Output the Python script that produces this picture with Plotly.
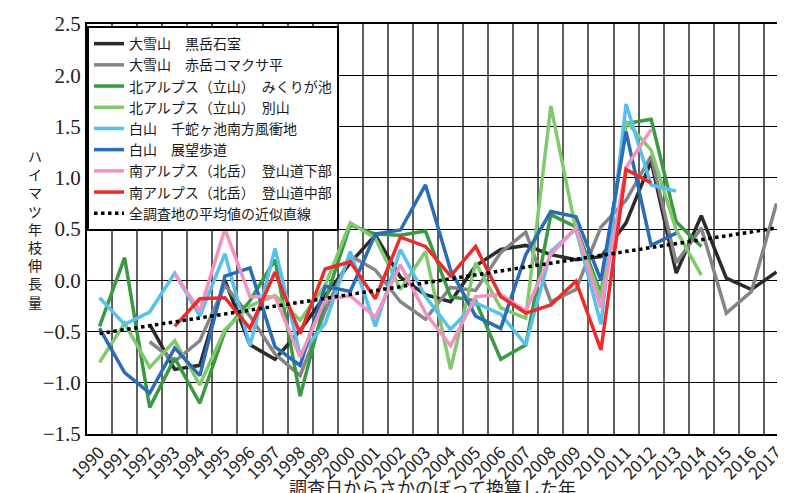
import plotly.graph_objects as go

years = list(range(1990, 2018))

series_names = [
    "大雪山\u3000黒岳石室",
    "大雪山\u3000赤岳コマクサ平",
    "北アルプス（立山）\u3000みくりが池",
    "北アルプス（立山）\u3000別山",
    "白山\u3000千蛇ヶ池南方風衝地",
    "白山\u3000展望歩道",
    "南アルプス（北岳）\u3000登山道下部",
    "南アルプス（北岳）\u3000登山道中部",
]
series_colors = ["#2b2b2b", "#858585", "#3a9a42", "#80c96c", "#55c2ee", "#2c6cb6", "#f292c0", "#ee2b2b"]

N = None
kurodake = [N, N, -0.43, -0.87, -0.83, 0.0, -0.63, -0.77, -0.49, -0.15, 0.17, 0.44, 0.03, -0.14,
            -0.21, 0.14, 0.30, 0.34, 0.25, 0.20, 0.23, 0.56, 1.16, 0.07, 0.63, 0.02, -0.09, 0.08]
akadake = [N, N, -0.60, -0.79, -0.59, -0.05, -0.35, -0.72, -0.93, -0.30, 0.24, 0.10, -0.21, -0.38,
           -0.07, -0.10, 0.27, 0.47, -0.21, -0.09, 0.52, 0.78, 1.21, 0.17, 0.51, -0.32, -0.11, 0.75]
mikurigaike = [-0.45, 0.22, -1.24, -0.76, -1.20, -0.50, -0.20, 0.20, -1.13, -0.20, 0.54, 0.45, 0.44, 0.48,
               -0.16, -0.20, -0.77, -0.63, 0.64, 0.52, -0.13, 1.53, 1.57, 0.57, 0.33, N, N, N]
bessan = [-0.80, -0.42, -0.85, -0.59, -1.02, -0.48, -0.25, -0.15, -0.39, -0.05, 0.56, 0.41, -0.09, 0.28,
          -0.87, 0.17, -0.27, -0.37, 1.70, 0.49, -0.18, 1.55, 1.27, 0.49, 0.05, N, N, N]
senjagaike = [-0.17, -0.43, -0.31, 0.07, -0.35, 0.26, -0.64, 0.31, -0.73, -0.42, 0.28, -0.45, 0.30, -0.16,
              -0.48, -0.22, -0.33, -0.63, 0.28, 0.50, -0.43, 1.72, 0.93, 0.87, N, N, N, N]
tenbo = [-0.47, -0.90, -1.10, -0.66, -0.93, 0.04, 0.12, -0.65, -0.83, -0.06, -0.11, 0.45, 0.49, 0.93,
         0.10, -0.35, -0.47, 0.25, 0.67, 0.62, 0.0, 1.45, 0.34, 0.46, N, N, N, N]
kabu = [N, N, N, 0.06, -0.30, 0.50, -0.16, -0.16, -0.75, -0.19, -0.15, -0.36, 0.15, -0.32,
        -0.64, -0.16, -0.14, -0.30, 0.25, 0.51, -0.27, 1.10, 1.47, N, N, N, N, N]
chubu = [N, N, N, -0.45, -0.18, -0.17, -0.47, 0.08, -0.52, 0.11, 0.18, -0.18, 0.42, 0.33,
         0.04, 0.33, -0.16, -0.32, -0.24, -0.01, -0.68, 1.08, 0.95, N, N, N, N, N]
all_series = [kurodake, akadake, mikurigaike, bessan, senjagaike, tenbo, kabu, chubu]

trend_name = "全調査地の平均値の近似直線"
trend_years = [1990, 2017]
trend_values = [-0.52, 0.51]

y_title = "ハイマツ年枝伸長量"
x_title = "調査日からさかのぼって換算した年"

fig = go.Figure()
for name, color, vals in zip(series_names, series_colors, all_series):
    fig.add_trace(go.Scatter(x=years, y=vals, mode="lines", name=name,
                             line=dict(color=color, width=3.5), connectgaps=False))
fig.add_trace(go.Scatter(x=trend_years, y=trend_values, mode="lines", name=trend_name,
                         line=dict(color="black", width=3.5, dash="dot")))

boundaries = [y - 0.5 for y in years] + [years[-1] + 0.5]

# page body has an 8px margin, so the figure is drawn 8px right/down of the window corner
fig.update_layout(
    width=778, height=485,
    margin=dict(l=79, r=0, t=16, b=59),
    paper_bgcolor="white", plot_bgcolor="white",
    font=dict(family="Noto Sans CJK JP", color="#222"),
    showlegend=True,
    legend=dict(x=0.0, y=0.995, xanchor="left", yanchor="top",
                bgcolor="white", bordercolor="black", borderwidth=2,
                font=dict(size=14, family="Noto Sans CJK JP", color="#1a1a1a"),
                tracegroupgap=0),
    xaxis=dict(range=[1989.5, 2017.02], tickmode="array", tickvals=years,
               ticktext=[str(y) for y in years], tickangle=-45, showgrid=False,
               ticklabeloverflow="allow",
               tickfont=dict(size=17, family="Noto Sans CJK JP", color="#222"),
               showline=True, linecolor="black", linewidth=2, mirror=True, ticks="",
               zeroline=False,
               minor=dict(tickmode="array", tickvals=boundaries, showgrid=True,
                          gridcolor="#606060", gridwidth=1.5, ticks="")),
    yaxis=dict(range=[-1.5, 2.5], dtick=0.5, tick0=-1.5, tickformat=".1f",
               showgrid=True, gridcolor="black", gridwidth=1.2,
               showline=True, linecolor="black", linewidth=2, ticks="",
               zeroline=False,
               tickfont=dict(size=21, family="Liberation Sans Narrow", color="#222")),
    annotations=[
        dict(text="<br>".join(list(y_title)), xref="paper", yref="paper",
             x=-0.0758, y=0.5, xanchor="center", yanchor="middle", showarrow=False,
             font=dict(size=14, family="Noto Sans CJK JP", color="#1a1a1a")),
        dict(text=x_title, xref="paper", yref="paper", x=0.5, y=-0.093,
             xanchor="center", yanchor="top", showarrow=False,
             font=dict(size=18, family="Noto Sans CJK JP", color="#222")),
    ],
)

fig.write_html("out.html")
